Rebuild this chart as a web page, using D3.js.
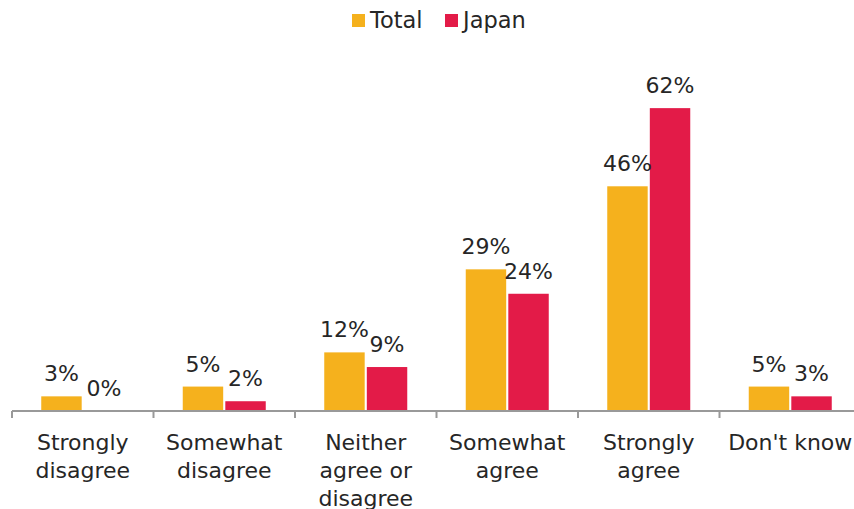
<!DOCTYPE html>
<html>
<head>
<meta charset="utf-8">
<script src="https://cdn.jsdelivr.net/npm/d3@7"></script>
<style>
  html, body { margin: 0; padding: 0; background: #fff; }
  svg { display: block; font-family: "DejaVu Sans", Verdana, sans-serif; }
</style>
</head>
<body>
<svg id="chart" width="854" height="509"></svg>
<script>
// Survey responses, share of respondents (%)
const categories = [
  ["Strongly", "disagree"],
  ["Somewhat", "disagree"],
  ["Neither", "agree or", "disagree"],
  ["Somewhat", "agree"],
  ["Strongly", "agree"],
  ["Don't know"]
];
const seriesNames = ["Total", "Japan"];
const totalValues = [3, 5, 12, 29, 46, 5];
const japanValues = [0, 2, 9, 24, 62, 3];
const seriesColors = ["#F5B11D", "#E31B48"];

const svg = d3.select("#chart");
const margin = { left: 12, axisY: 411 };
const bandWidth = 141.5;
const plotRight = margin.left + bandWidth * categories.length;
const fontSize = 22;

const x0 = d3.scaleBand()
  .domain(d3.range(categories.length))
  .range([margin.left, plotRight])
  .paddingInner(0).paddingOuter(0);

const x1 = d3.scaleBand()
  .domain(seriesNames)
  .range([x0.bandwidth() / 2 - 41.5, x0.bandwidth() / 2 + 41.5])
  .paddingInner(0.05);

const y = d3.scaleLinear().domain([0, 70]).range([margin.axisY, margin.axisY - 70 * 4.885]);

const data = categories.map((c, i) => ({
  idx: i,
  values: [
    { key: "Total", v: totalValues[i] },
    { key: "Japan", v: japanValues[i] }
  ]
}));

const color = d3.scaleOrdinal().domain(seriesNames).range(seriesColors);

// Bars and value labels
const groups = svg.append("g").selectAll("g")
  .data(data).join("g")
  .attr("transform", d => `translate(${x0(d.idx)},0)`);

groups.selectAll("rect")
  .data(d => d.values).join("rect")
  .attr("x", d => x1(d.key))
  .attr("width", x1.bandwidth())
  .attr("y", d => y(d.v))
  .attr("height", d => y(0) - y(d.v))
  .attr("fill", d => color(d.key));

groups.selectAll("text.val")
  .data(d => d.values).join("text")
  .attr("class", "val")
  .attr("x", d => x1(d.key) + x1.bandwidth() / 2)
  .attr("y", d => y(d.v) - 15)
  .attr("text-anchor", "middle")
  .attr("font-size", fontSize)
  .attr("fill", "#262626")
  .text(d => d.v + "%");

// Category axis
const axis = svg.append("g").attr("transform", `translate(0,${margin.axisY})`);
axis.append("line")
  .attr("x1", margin.left).attr("x2", plotRight)
  .attr("stroke", "#999").attr("stroke-width", 2);
axis.selectAll("line.tick")
  .data(d3.range(categories.length + 1)).join("line")
  .attr("class", "tick")
  .attr("x1", i => margin.left + i * x0.bandwidth())
  .attr("x2", i => margin.left + i * x0.bandwidth())
  .attr("y1", 0).attr("y2", 7)
  .attr("stroke", "#999").attr("stroke-width", 2);

const labels = axis.selectAll("text.cat")
  .data(categories).join("text")
  .attr("class", "cat")
  .attr("text-anchor", "middle")
  .attr("font-size", fontSize)
  .attr("fill", "#262626")
  .attr("transform", (d, i) => `translate(${x0(i) + x0.bandwidth() / 2},39)`);
labels.selectAll("tspan")
  .data(d => d).join("tspan")
  .attr("x", 0)
  .attr("y", (d, i) => i * 28)
  .text(d => d);

// Legend
const legend = svg.append("g");
const legendX = [352, 445];
seriesNames.forEach((name, i) => {
  legend.append("rect")
    .attr("x", legendX[i]).attr("y", 14)
    .attr("width", 13).attr("height", 13)
    .attr("fill", seriesColors[i]);
  legend.append("text")
    .attr("x", legendX[i] + 18).attr("y", 28)
    .attr("font-size", 22.5)
    .attr("fill", "#262626")
    .text(name);
});
</script>
</body>
</html>
